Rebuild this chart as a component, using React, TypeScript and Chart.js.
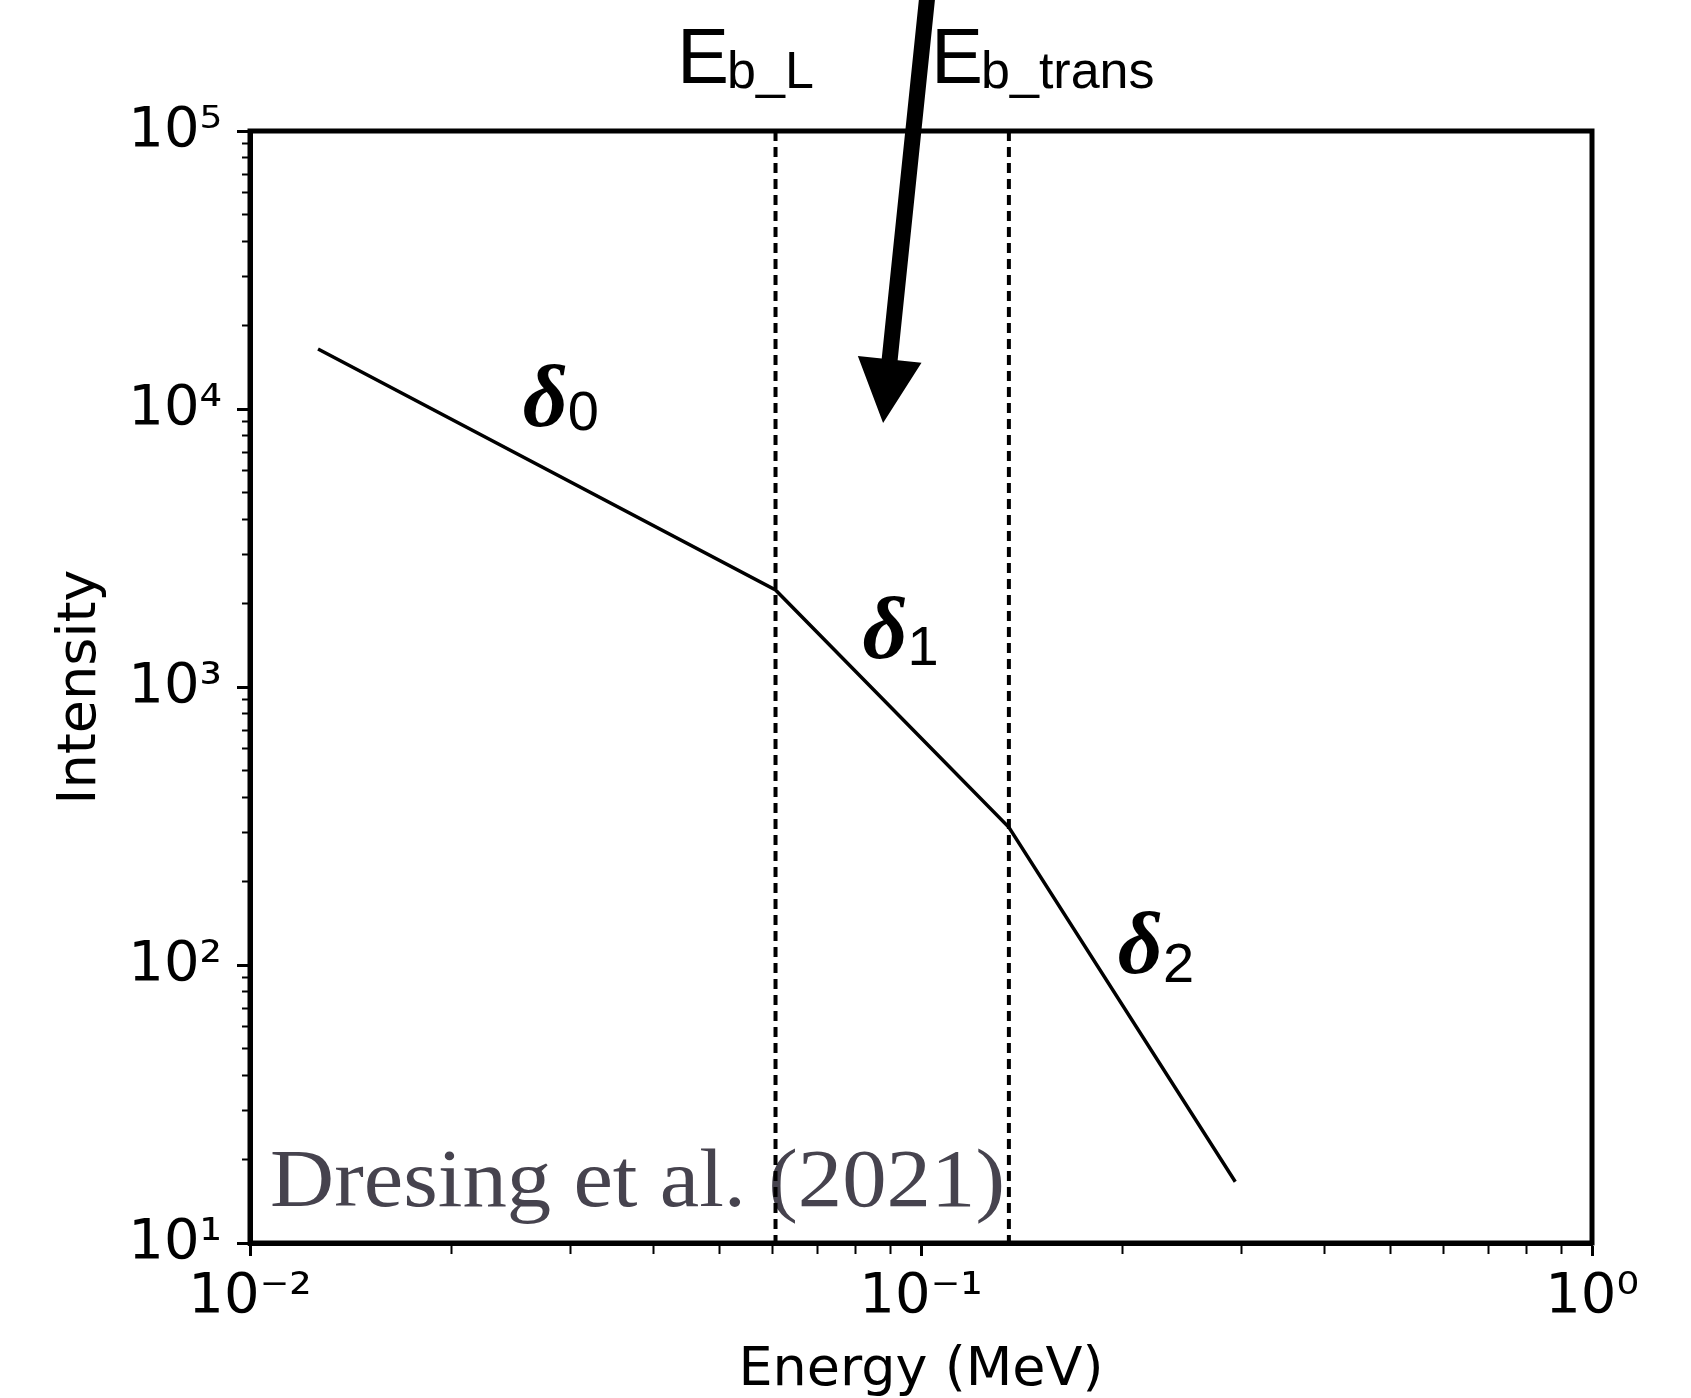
import React, { useEffect, useRef } from 'react';
import { Chart, registerables } from 'chart.js';

Chart.register(...registerables);

// ---- data ----
const ENERGY = [0.01263, 0.0607, 0.1352, 0.294];
const INTENSITY = [16440, 2233, 313, 16.6];
const BREAK_ENERGY = [0.0607, 0.1352];
const BREAK_NAMES = ['b_L', 'b_trans'];
const BREAK_LABEL_E = [0.04329, 0.1035];
const X_MAJOR = [0.01, 0.1, 1];
const X_LABELS = ['10\u207B\u00B2', '10\u207B\u00B9', '10\u2070'];
const Y_MAJOR = [10, 100, 1000, 10000, 100000];
const Y_LABELS = ['10\u00B9', '10\u00B2', '10\u00B3', '10\u2074', '10\u2075'];
const MINOR_MULT = [2, 3, 4, 5, 6, 7, 8, 9];
const SEG_SUBS = ['0', '1', '2'];
const SEG_LABEL_E = [0.0255, 0.0818, 0.1965];
const SEG_LABEL_I = [8690, 1271, 93.6];
const SEG_SUB_DROP = [4, 7, 9];
const ARROW_TAIL = { x: 0.1021, y: 3.0e5 };
const ARROW_TIP = { x: 0.0878, y: 8905 };
const CREDIT = 'Dresing et al. (2021)';

function buildTicks(majors: number[]) {
  const out: { value: number; major: boolean }[] = [];
  majors.forEach((m, i) => {
    out.push({ value: m, major: true });
    if (i < majors.length - 1) MINOR_MULT.forEach((k) => out.push({ value: m * k, major: false }));
  });
  return out;
}

function labelFor(v: number, majors: number[], labels: string[]) {
  const i = majors.findIndex((m) => Math.abs(Math.log10(m) - Math.log10(v)) < 1e-6);
  return i >= 0 ? labels[i] : '';
}

const overlay = {
  id: 'overlay',
  beforeDatasetsDraw(chart: any) {
    const { ctx, chartArea } = chart;
    ctx.save();
    ctx.fillStyle = '#46434e';
    ctx.font = "82px 'Liberation Serif'";
    ctx.textBaseline = 'alphabetic';
    ctx.textAlign = 'left';
    const w = ctx.measureText(CREDIT).width;
    const sx = 735 / w;
    ctx.translate(chartArea.left + 20, chartArea.bottom - 37);
    ctx.scale(sx, 1);
    ctx.fillText(CREDIT, 0, 0);
    ctx.restore();
  },
  afterDraw(chart: any) {
    const { ctx, chartArea, scales } = chart;
    const xs = scales.x;
    const ys = scales.y;
    ctx.save();
    // frame
    ctx.strokeStyle = '#000';
    ctx.lineWidth = 5;
    ctx.strokeRect(chartArea.left, chartArea.top, chartArea.right - chartArea.left, chartArea.bottom - chartArea.top);

    // segment labels
    ctx.fillStyle = '#000';
    ctx.textBaseline = 'alphabetic';
    ctx.textAlign = 'left';
    SEG_SUBS.forEach((s, i) => {
      const x = xs.getPixelForValue(SEG_LABEL_E[i]);
      const y = ys.getPixelForValue(SEG_LABEL_I[i]);
      ctx.font = "italic bold 88px 'Liberation Serif'";
      ctx.fillText('\u03B4', x, y);
      const w = ctx.measureText('\u03B4').width;
      ctx.font = "56px 'Liberation Sans'";
      ctx.fillText(s, x + w, y + SEG_SUB_DROP[i]);
    });

    // break labels above the plot
    BREAK_NAMES.forEach((n, i) => {
      const x = xs.getPixelForValue(BREAK_LABEL_E[i]);
      const y = chartArea.top - 48;
      ctx.font = "78px 'Liberation Sans'";
      ctx.fillText('E', x, y);
      const w = ctx.measureText('E').width;
      ctx.font = "52px 'Liberation Sans'";
      ctx.fillText(n, x + w - 2, y + 5);
    });

    // arrow
    const tx = xs.getPixelForValue(ARROW_TAIL.x);
    const ty = ys.getPixelForValue(ARROW_TAIL.y);
    const hx = xs.getPixelForValue(ARROW_TIP.x);
    const hy = ys.getPixelForValue(ARROW_TIP.y);
    const dx = hx - tx;
    const dy = hy - ty;
    const len = Math.hypot(dx, dy);
    const ux = dx / len;
    const uy = dy / len;
    const px = -uy;
    const py = ux;
    const headLen = 64;
    const headHalf = 32;
    const shaftHalf = 8;
    const bx = hx - ux * headLen;
    const by = hy - uy * headLen;
    ctx.beginPath();
    ctx.moveTo(tx + px * shaftHalf, ty + py * shaftHalf);
    ctx.lineTo(bx + px * shaftHalf, by + py * shaftHalf);
    ctx.lineTo(bx + px * headHalf, by + py * headHalf);
    ctx.lineTo(hx, hy);
    ctx.lineTo(bx - px * headHalf, by - py * headHalf);
    ctx.lineTo(bx - px * shaftHalf, by - py * shaftHalf);
    ctx.lineTo(tx - px * shaftHalf, ty - py * shaftHalf);
    ctx.closePath();
    ctx.fillStyle = '#000';
    ctx.fill();
    ctx.restore();
  },
};

const tickFont = { family: "'DejaVu Sans'", size: 56, lineHeight: 1.2 };
const titleFont = { family: "'DejaVu Sans'", size: 54, lineHeight: 1 };

export default function App() {
  const ref = useRef<HTMLCanvasElement | null>(null);
  useEffect(() => {
    if (!ref.current) return;
    const xTicks = buildTicks(X_MAJOR);
    const yTicks = buildTicks(Y_MAJOR);
    const isMajor = (c: any) => !!(c.tick && c.tick.major);
    const chart = new Chart(ref.current, {
      type: 'scatter',
      data: {
        datasets: [
          {
            data: ENERGY.map((e, i) => ({ x: e, y: INTENSITY[i] })),
            showLine: true,
            borderColor: '#000',
            borderWidth: 3.5,
            pointRadius: 0,
            tension: 0,
          },
          ...BREAK_ENERGY.map((e) => ({
            data: [
              { x: e, y: Y_MAJOR[Y_MAJOR.length - 1] },
              { x: e, y: Y_MAJOR[0] },
            ],
            showLine: true,
            borderColor: '#000',
            borderWidth: 4,
            borderDash: [10, 6],
            pointRadius: 0,
          })),
        ],
      } as any,
      options: {
        animation: false,
        responsive: false,
        devicePixelRatio: 1,
        layout: { padding: { left: 0, top: 131, right: 99, bottom: 0 } },
        plugins: { legend: { display: false }, tooltip: { enabled: false } },
        scales: {
          x: {
            type: 'logarithmic',
            position: 'bottom',
            min: X_MAJOR[0],
            max: X_MAJOR[X_MAJOR.length - 1],
            afterBuildTicks: (s: any) => {
              s.ticks = xTicks.map((t) => ({ ...t }));
            },
            afterFit: (s: any) => {
              s.height = 155;
            },
            ticks: {
              autoSkip: false,
              maxRotation: 0,
              minRotation: 0,
              color: '#000',
              font: tickFont,
              padding: 8,
              callback: (v: any) => labelFor(Number(v), X_MAJOR, X_LABELS),
            },
            grid: {
              display: true,
              drawOnChartArea: false,
              drawTicks: true,
              tickLength: 13,
              tickColor: '#000',
              tickWidth: (c: any) => (isMajor(c) ? 3 : 2),
              tickBorderDash: (c: any) => (isMajor(c) ? [] : [8, 100]),
              tickBorderDashOffset: 0,
            },
            border: { display: true, color: '#000', width: 5 },
            title: {
              display: true,
              text: 'Energy (MeV)',
              color: '#000',
              font: titleFont,
              padding: { top: 0, bottom: 0 },
            },
          },
          y: {
            type: 'logarithmic',
            position: 'left',
            min: Y_MAJOR[0],
            max: Y_MAJOR[Y_MAJOR.length - 1],
            afterBuildTicks: (s: any) => {
              s.ticks = yTicks.map((t) => ({ ...t }));
            },
            afterFit: (s: any) => {
              s.width = 250;
            },
            ticks: {
              autoSkip: false,
              color: '#000',
              font: tickFont,
              padding: 15,
              callback: (v: any) => labelFor(Number(v), Y_MAJOR, Y_LABELS),
            },
            grid: {
              display: true,
              drawOnChartArea: false,
              drawTicks: true,
              tickLength: 13,
              tickColor: '#000',
              tickWidth: (c: any) => (isMajor(c) ? 3 : 2),
              tickBorderDash: (c: any) => (isMajor(c) ? [] : [8, 5]),
              tickBorderDashOffset: (c: any) => (isMajor(c) ? 0 : 8),
            },
            border: { display: true, color: '#000', width: 5 },
            title: {
              display: true,
              text: 'Intensity',
              color: '#000',
              font: titleFont,
              padding: { top: 54, bottom: 0 },
            },
          },
        },
      } as any,
      plugins: [overlay],
    });
    return () => chart.destroy();
  }, []);

  return (
    <div style={{ position: 'absolute', left: 0, top: 0, width: 1691, height: 1398, background: '#fff' }}>
      <canvas ref={ref} width={1691} height={1398} style={{ display: 'block' }} />
    </div>
  );
}
